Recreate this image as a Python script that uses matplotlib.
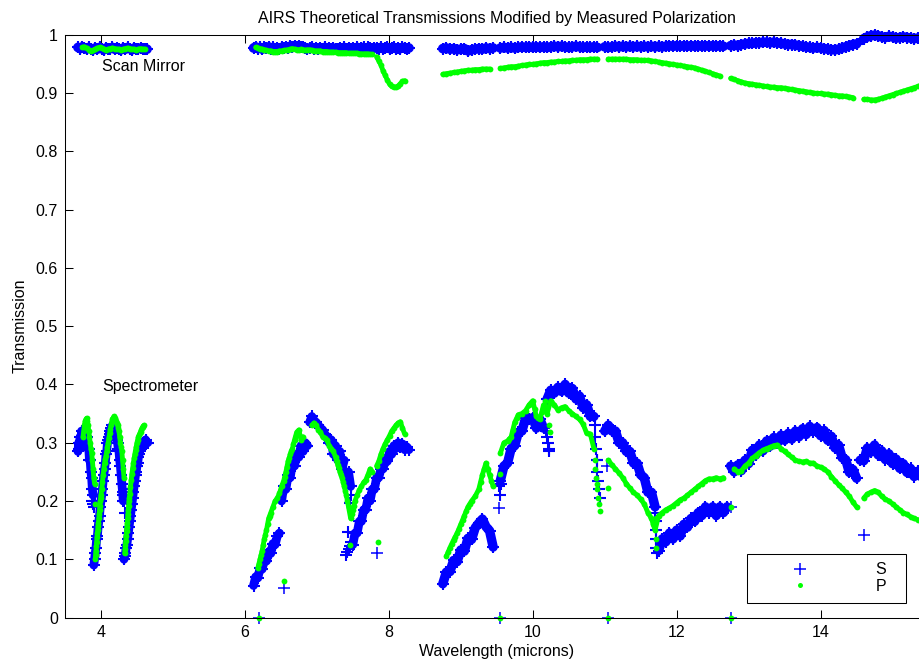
import numpy as np
import matplotlib
matplotlib.use('Agg')
import matplotlib.pyplot as plt
from matplotlib.lines import Line2D

nan = np.nan

# ---- spectrometer, 3.7-4.6 um ----
wl_a = [3.68, 3.69, 3.70, 3.71, 3.72, 3.73, 3.74, 3.75, 3.76, 3.77,
        3.78, 3.79, 3.80, 3.81, 3.82, 3.83, 3.84, 3.85, 3.86, 3.87,
        3.88, 3.89, 3.90, 3.91, 3.92, 3.93, 3.94, 3.95, 3.96, 3.97,
        3.98, 3.99, 4.00, 4.01, 4.02, 4.03, 4.04, 4.05, 4.06, 4.07,
        4.08, 4.09, 4.10, 4.11, 4.12, 4.13, 4.14, 4.15, 4.16, 4.17,
        4.18, 4.19, 4.20, 4.21, 4.22, 4.23, 4.24, 4.25, 4.26, 4.27,
        4.28, 4.29, 4.30, 4.31, 4.32, 4.33, 4.34, 4.35, 4.36, 4.37,
        4.38, 4.39, 4.40, 4.41, 4.42, 4.43, 4.44, 4.45, 4.46, 4.47,
        4.48, 4.49, 4.50, 4.51, 4.52, 4.53, 4.54, 4.55, 4.56, 4.57,
        4.58, 4.59, 4.60, 4.61, 4.62, 4.63, 4.64, 4.65, 4.66]
s_a = [.285, .30, .29, .31, .30, .32, .31, .32, .31, .32,
       .30, .31, .30, .31, .29, .29, .27, .27, .25, .24,
       .22, .21, .09, .10, .11, .12, .135, .14, .155, .165,
       .175, .19, .20, .21, .22, .235, .245, .255, .265, .28,
       .285, .30, .305, .31, .32, .315, .325, .32, .33, .32,
       .325, .315, .32, .31, .305, .30, .29, .285, .27, .26,
       .245, .23, .215, .20, .10, .105, .11, .12, .125, .135,
       .145, .155, .165, .175, .185, .195, .205, .215, .225, .235,
       .245, .25, .26, .265, .275, .28, .285, .29, .29, .295,
       .30, .295, .30, .30, .305, .30, .30, .30, nan]
p_a = [nan, nan, nan, nan, nan, nan, nan, .31, .32, .33,
       .337, .34, .342, .338, .33, .32, .31, .30, .29, .283,
       .27, .255, .24, .23, .10, .115, .13, .145, .157, .17,
       .185, .20, .21, .22, .232, .245, .255, .265, .272, .278,
       .285, .293, .30, .308, .316, .324, .33, .336, .34, .343,
       .345, .342, .34, .337, .334, .33, .326, .32, .31, .30,
       .293, .285, .27, .255, .24, .11, .125, .14, .155, .17,
       .185, .20, .212, .224, .236, .247, .256, .265, .273, .28,
       .287, .293, .30, .305, .31, .313, .316, .319, .322, .325,
       .327, .329, .33, nan, nan, nan, nan, nan, nan]

# ---- spectrometer, 6.1-8.3 um ----
wl_b = [6.12, 6.15, 6.18, 6.21, 6.24, 6.27, 6.30, 6.33, 6.36, 6.39,
        6.42, 6.45, 6.48, 6.51, 6.54, 6.57, 6.60, 6.63, 6.66, 6.69,
        6.72, 6.75, 6.78, 6.81, 6.84, 6.87, 6.90, 6.93, 6.96, 6.99,
        7.02, 7.05, 7.08, 7.11, 7.14, 7.17, 7.20, 7.23, 7.26, 7.29,
        7.32, 7.35, 7.38, 7.41, 7.44, 7.47, 7.50, 7.53, 7.56, 7.59,
        7.62, 7.65, 7.68, 7.71, 7.74, 7.77, 7.80, 7.83, 7.86, 7.89,
        7.92, 7.95, 7.98, 8.01, 8.04, 8.07, 8.10, 8.13, 8.16, 8.19,
        8.22, 8.25, 8.28]
s_b = [.055, .07, .068, .085, .083, .10, .097, .113, .11, .127,
       .125, .14, .145, .20, .225, .22, .245, .24, .265, .26,
       .28, .275, .295, .285, .30, .295, .335, .345, .338, .335,
       .33, .325, .322, .315, .31, .30, .305, .28, .295, .27,
       .285, .255, .27, .24, .25, .225, .125, .145, .145, .165,
       .165, .185, .185, .205, .20, .22, .22, .24, .24, .255,
       .255, .27, .268, .285, .28, .295, .29, .30, .292, .298,
       .288, .293, .288]
p_b = [nan, nan, .085, .10, .115, .135, .15, .17, .18, .19,
       .20, .205, .213, .225, .235, .25, .268, .28, .29, .305,
       .318, .322, .305, .31, nan, nan, nan, .33, .334, .33,
       .322, .318, .31, .308, .305, .295, .29, .285, .275, .262,
       .25, .24, .225, .21, .19, .17, .185, .20, .21, .219,
       .225, .232, .236, .245, .255, .25, nan, .26, .268, .28,
       .29, .298, .305, .312, .32, .325, .33, .334, .336, .325,
       .315, nan, nan]

# ---- spectrometer, 8.7-15.4 um ----
wl_c = [8.70, 8.75, 8.80, 8.85, 8.90, 8.95, 9.00, 9.05, 9.10, 9.15,
        9.20, 9.25, 9.30, 9.35, 9.40, 9.45, 9.50, 9.55, 9.60, 9.65,
        9.70, 9.75, 9.80, 9.85, 9.90, 9.95, 10.00, 10.05, 10.10, 10.15,
        10.20, 10.25, 10.30, 10.35, 10.40, 10.45, 10.50, 10.55, 10.60, 10.65,
        10.70, 10.75, 10.80, 10.85, 10.90, 10.95, 11.00, 11.05, 11.10, 11.15,
        11.20, 11.25, 11.30, 11.35, 11.40, 11.45, 11.50, 11.55, 11.60, 11.65,
        11.70, 11.75, 11.80, 11.85, 11.90, 11.95, 12.00, 12.05, 12.10, 12.15,
        12.20, 12.25, 12.30, 12.35, 12.40, 12.45, 12.50, 12.55, 12.60, 12.65,
        12.70, 12.75, 12.80, 12.85, 12.90, 12.95, 13.00, 13.05, 13.10, 13.15,
        13.20, 13.25, 13.30, 13.35, 13.40, 13.45, 13.50, 13.55, 13.60, 13.65,
        13.70, 13.75, 13.80, 13.85, 13.90, 13.95, 14.00, 14.05, 14.10, 14.15,
        14.20, 14.25, 14.30, 14.35, 14.40, 14.45, 14.50, 14.55, 14.60, 14.65,
        14.70, 14.75, 14.80, 14.85, 14.90, 14.95, 15.00, 15.05, 15.10, 15.15,
        15.20, 15.25, 15.30, 15.35, 15.40]
s_c = [nan, .058, .078, .079, .098, .096, .116, .114, .136, .134,
       .154, .162, .169, .156, .149, .121, nan, .235, .26, .265,
       .29, .295, .318, .32, .342, .34, .343, .325, .34, .325,
       .375, .39, .385, .395, .388, .40, .385, .393, .375, .38,
       .36, .365, .345, .345, .27, nan, .32, .33, .32, .32,
       .30, .30, .285, .285, .265, .265, .245, .24, .215, .215,
       .19, .115, .135, .13, .145, .135, .15, .14, .16, .155,
       .17, .165, .18, .175, .19, .18, .19, .175, .19, .18,
       .19, .26, .25, .262, .252, .27, .264, .287, .279, .296,
       .286, .303, .294, .309, .299, .313, .304, .316, .306, .32,
       .31, .324, .314, .328, .319, .326, .312, .321, .304, .311,
       .291, .296, .274, .271, .249, .254, .239, .27, .269, .291,
       .284, .296, .279, .286, .271, .281, .264, .272, .256, .264,
       .249, .256, .242, .251, .238]
p_c = [nan, nan, .105, .12, .133, .145, .16, .175, .19, .20,
       .208, .22, .245, .265, .245, .225, nan, .282, .30, .303,
       .31, .335, .348, .35, .355, .365, .372, .345, .34, .365,
       .35, .372, .365, .356, .36, .362, .355, .35, .345, .34,
       .332, .316, .315, .29, .22, nan, nan, .27, .262, .255,
       .248, .24, .23, .222, .215, .21, .203, .195, .18, .17,
       .15, .175, .18, .185, .188, .192, .197, .202, .205, .21,
       .215, .22, .225, .23, .235, .238, .238, .24, .238, .24,
       nan, nan, .255, .25, .252, .26, .265, .273, .278, .283,
       .287, .29, .292, .295, .296, .29, .285, .28, .275, .27,
       .268, .267, .268, .265, .265, .26, .258, .255, .25, .242,
       .235, .228, .222, .215, .208, .198, .19, nan, .205, .212,
       .215, .218, .215, .208, .203, .20, .195, .19, .185, .18,
       .177, .173, .17, .168, .165]

# overlapping module edges and steep drops
s_extra_wl = [3.88, 3.89, 3.90, 3.90, 3.91, 4.31, 4.32, 4.32, 4.33,
              7.40, 7.42, 7.44, 7.46, 7.48, 7.43, 7.46, 7.47, 9.53, 9.54, 9.56,
              10.19, 10.20, 10.21, 10.22, 10.23,
              10.86, 10.87, 10.88, 10.89, 10.90, 10.91, 10.92, 10.93,
              11.70, 11.71, 11.71, 11.72, 11.72, 11.73]
s_extra = [.20, .195, .21, .19, .20, .21, .22, .20, .18,
           .108, .113, .118, .123, .13, .146, .196, .21, .225, .21, .23,
           .32, .31, .30, .29, .285,
           .33, .31, .29, .27, .25, .235, .22, .205,
           .18, .165, .15, .135, .12, .11]
p_extra_wl = [3.925, 3.935, 3.945, 3.955, 3.965, 3.975, 3.985, 3.995,
              4.335, 4.345, 4.355, 4.365, 4.375, 4.385, 4.395,
              6.195, 6.225, 6.255, 6.285, 6.315, 6.345,
              6.555, 6.585, 6.615, 6.645, 6.675, 6.705,
              7.275, 7.305, 7.335, 7.365, 7.395, 7.425, 7.485, 7.515,
              8.825, 8.875, 8.925, 8.975, 9.025, 9.075, 9.125,
              9.275, 9.325, 9.375, 9.425, 9.675, 9.725, 9.775,
              10.025, 10.075, 10.125, 10.175, 10.225, 10.24,
              10.86, 10.87, 10.88, 10.89, 10.91, 10.92, 10.93,
              11.675, 11.71, 11.72, 11.72]
p_extra = [.108, .122, .138, .151, .163, .178, .192, .205,
           .118, .132, .148, .162, .178, .192, .206,
           .092, .108, .125, .142, .16, .175,
           .242, .259, .274, .285, .297, .312,
           .268, .256, .245, .232, .218, .20, .178, .192,
           .112, .127, .139, .152, .167, .183, .195,
           .232, .255, .255, .235, .306, .322, .342,
           .358, .342, .352, .372, .33, .318,
           .27, .255, .24, .23, .205, .195, .182,
           .16, .135, .12, .17]

# stray channels
s_stray_wl = [6.19, 6.54, 7.84, 9.53, 9.54, 11.03, 11.04, 12.76, 12.76, 14.61]
s_stray = [0, .051, .111, .188, 0, .26, 0, .19, 0, .142]
p_stray_wl = [3.92, 6.19, 6.55, 7.46, 7.85, 9.54, 9.54, 11.04, 11.04, 12.76, 12.76]
p_stray = [.195, 0, .063, .125, .13, .247, 0, .222, 0, .19, 0]

# ---- scan mirror ----
mir_wl_a = [3.68, 3.71, 3.74, 3.77, 3.80, 3.83, 3.86, 3.89, 3.92, 3.95,
            3.98, 4.01, 4.04, 4.07, 4.10, 4.13, 4.16, 4.19, 4.22, 4.25,
            4.28, 4.31, 4.34, 4.37, 4.40, 4.43, 4.46, 4.49, 4.52, 4.55,
            4.58, 4.61, 4.64]
mir_s_a = [.978, .976, .979, .977, .975, .978, .976, .974, .977, .975,
           .978, .976, .974, .977, .975, .976, .978, .975, .977, .976,
           .974, .977, .975, .978, .976, .974, .977, .975, .976, .977,
           .975, .976, .975]
mir_p_a = [nan, nan, .978, .979, .977, .974, .972, .973, .975, .977,
           .978, .977, .975, .974, .975, .976, .977, .976, .975, .975,
           .974, .975, .976, .977, .976, .975, .975, .974, .975, .976,
           .975, .975, nan]
mir_s_b = [.977, .979, .976, .978, .975, .978, .977, .979, .976, .978,
           .975, .977, .976, .978, .977, .979, .977, .980, .978, .981,
           .979, .980, .978, .979, .977, .976, .977, .978, .976, .977,
           .975, .977, .976, .978, .975, .977, .976, .977, .975, .976,
           .977, .975, .978, .976, .977, .975, .977, .976, .978, .976,
           .977, .978, .976, .978, .977, .976, .977, .977, .976, .978,
           .976, .977, .978, .976, .977, .978, .976, .977, .976, .978,
           .977, .976, .977]
mir_p_b = [nan, .978, .977, .976, .975, .974, .973, .972, .972, .971,
           .971, .971, .972, .972, .973, .973, .974, .975, .976, .975,
           .974, .974, .975, .974, .973, .974, .974, .973, .972, .972,
           .972, .972, .971, .971, .971, .970, .970, .970, .970, .969,
           .969, .969, .969, .969, .968, .968, .968, .968, .968, .967,
           .967, .967, .967, .967, .966, .966, nan, .962, .955, .948,
           .938, .930, .922, .915, .911, .910, .910, .912, .916, .920,
           .921, nan, nan]
mir_s_c = [nan, .976, .977, .975, .976, .974, .975, .976, .972, .974,
           .975, .976, .975, .977, .976, .977, nan, .977, .978, .977,
           .978, .977, .978, .979, .978, .979, .978, .979, .978, .979,
           .978, .979, .980, .979, .980, .979, .978, .979, .980, .979,
           .978, .979, .978, .979, .978, nan, .979, .978, .979, .980,
           .979, .980, .979, .980, .979, .980, .979, .980, .979, .980,
           .979, .980, .979, .980, .981, .980, .981, .980, .981, .980,
           .981, .980, .981, .980, .981, .980, .981, .980, .981, .980,
           nan, .981, .982, .981, .983, .984, .985, .985, .986, .986,
           .987, .987, .986, .987, .986, .985, .984, .983, .983, .982,
           .981, .980, .979, .978, .977, .978, .977, .976, .975, .974,
           .974, .975, .977, .979, .981, .983, .984, nan, .993, .996,
           .998, .999, .998, .996, .995, .997, .996, .994, .995, .996,
           .995, .994, .993, .994, .993]
mir_p_c = [nan, .932, .933, .934, .935, .936, .937, .938, .939, .939,
           .940, .940, .941, .941, .941, nan, nan, .942, .943, .944,
           .945, .945, .946, .947, .948, .949, .949, .950, .951, .952,
           .952, .953, .953, .954, .954, .955, .955, .956, .956, .957,
           .957, .957, .958, .958, .958, nan, nan, .958, .958, .958,
           .958, .958, .958, .957, .957, .957, .956, .956, .956, .955,
           .954, .953, .952, .951, .950, .949, .948, .947, .946, .945,
           .944, .943, .941, .939, .937, .935, .933, .931, .929, nan,
           nan, .925, .923, .921, .919, .917, .916, .915, .914, .913,
           .912, .911, .910, .910, .909, .909, .908, .907, .906, .905,
           .904, .903, .902, .901, .900, .899, .899, .898, .898, .897,
           .896, .895, .895, .894, .893, .892, nan, nan, .889, .889,
           .888, .888, .889, .891, .893, .895, .897, .899, .901, .903,
           .905, .907, .909, .911, .913]

yticks = [0, 0.1, 0.2, 0.3, 0.4, 0.5, 0.6, 0.7, 0.8, 0.9, 1]
ytick_labels = ['0', '0.1', '0.2', '0.3', '0.4', '0.5', '0.6', '0.7', '0.8', '0.9', '1']
xticks = [4, 6, 8, 10, 12, 14]


def broken(wl, t, jump=0.03):
    # break the trace where one detector module hands over to the next
    x = np.asarray(wl, float)
    y = np.asarray(t, float)
    cut = np.where(np.abs(np.diff(y)) > jump)[0] + 1
    return np.insert(x, cut, nan), np.insert(y, cut, nan)


plt.rcParams['font.family'] = ['Liberation Sans', 'DejaVu Sans']

fig = plt.figure(figsize=(9.19, 6.6), dpi=100)
ax = fig.add_axes([65 / 919, 42.4 / 660, 863.5 / 919, 583 / 660])

blue = (0, 0, 1)
green = (0, 1, 0)
s_mark = dict(ls='none', marker='+', color=blue, ms=9, mew=1.5, clip_on=False)
s_single = dict(ls='none', marker='+', color=blue, ms=8.5, mew=1.1, clip_on=False)
p_mark = dict(ls='none', marker='o', color=green, ms=4.2, mew=0, clip_on=False)
band = dict(solid_joinstyle='round', solid_capstyle='round', clip_on=False)

s_sets = [(mir_wl_a, mir_s_a, 7.0), (wl_b, mir_s_b, 7.0), (wl_c, mir_s_c, 7.0),
          (wl_a, s_a, 6.3), (wl_b, s_b, 6.3), (wl_c, s_c, 6.8)]
p_sets = [(mir_wl_a, mir_p_a), (wl_b, mir_p_b), (wl_c, mir_p_c),
          (wl_a, p_a), (wl_b, p_b), (wl_c, p_c)]

# S: dense channels drawn as a solid band with the + markers on it
for wl, t, lw in s_sets:
    ax.plot(*broken(wl, t), color=blue, lw=lw, **band)
    ax.plot(wl, t, **s_mark)
ax.plot(s_extra_wl, s_extra, **s_mark)
ax.plot(s_stray_wl, s_stray, **s_single)

# P on top
for wl, t in p_sets:
    ax.plot(*broken(wl, t), color=green, lw=3.5, **band)
    ax.plot(wl, t, **p_mark)
ax.plot(p_extra_wl, p_extra, **p_mark)
ax.plot(p_stray_wl, p_stray, **p_mark)

ax.set_xlim(3.5, 15.5)
ax.set_ylim(0, 1)
ax.set_xticks(xticks)
ax.set_yticks(yticks)
ax.set_yticklabels(ytick_labels)
ax.tick_params(direction='in', top=True, right=True, length=5.8, width=0.75,
               labelsize=11.5, pad=5)
for sp in ax.spines.values():
    sp.set_linewidth(0.75)

ax.text(4.02, 0.945, 'Scan Mirror', fontsize=11.5, va='center', ha='left')
ax.text(4.02, 0.397, 'Spectrometer', fontsize=11.5, va='center', ha='left')

ax.set_title('AIRS Theoretical Transmissions Modified by Measured Polarization',
             fontsize=11.5, pad=8)
ax.set_xlabel('Wavelength (microns)', fontsize=11.5, labelpad=3)
ax.set_ylabel('Transmission', fontsize=11.5, labelpad=6)

handles = [Line2D([], [], ls='none', marker='+', color=blue, ms=8.5, mew=1.1),
           Line2D([], [], ls='none', marker='o', color=green, ms=3.6, mew=0)]
leg = ax.legend(handles, ['S', 'P'], loc='lower left',
                bbox_to_anchor=(747 / 919, 57 / 660, 159 / 919, 57 / 660),
                bbox_transform=fig.transFigure, mode='expand', borderaxespad=0,
                fontsize=11.5, handlelength=5.5, handletextpad=2.0,
                borderpad=0.56, labelspacing=0.1, fancybox=False, framealpha=1)
leg.get_frame().set_edgecolor('black')
leg.get_frame().set_linewidth(0.75)

fig.savefig('out.png', dpi=100)
